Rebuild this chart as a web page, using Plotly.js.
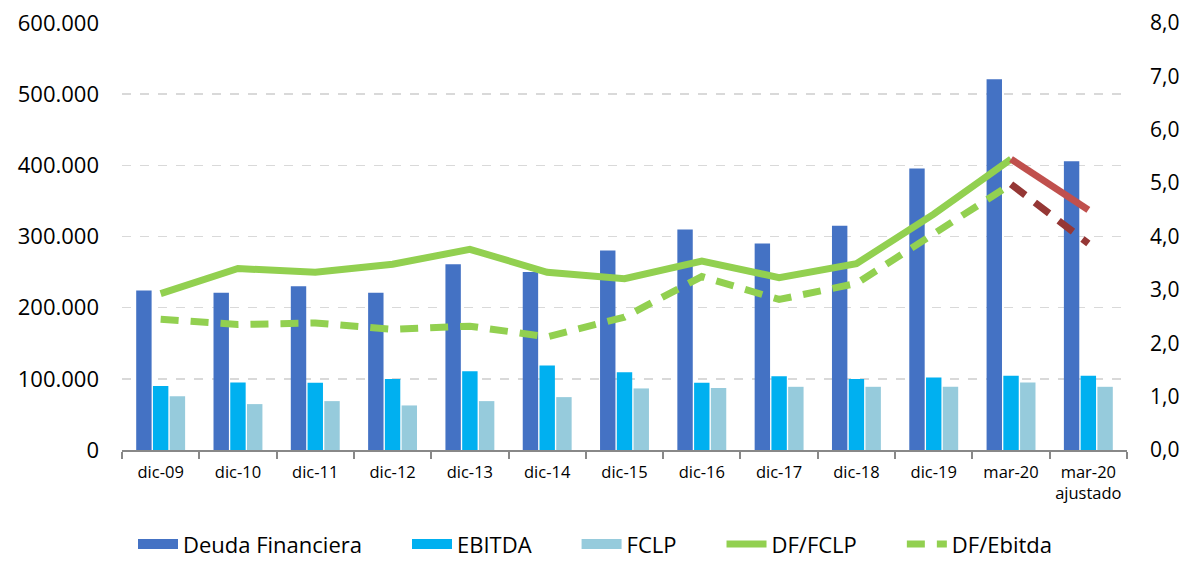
<!DOCTYPE html>
<html>
<head>
<meta charset="utf-8">
<script src="https://cdn.plot.ly/plotly-3.0.1.min.js"></script>
<style>html,body{margin:0;padding:0;background:#fff;}#chart{width:1190px;height:568px;}</style>
</head>
<body>
<div id="chart"></div>
<script>
const categories = ["dic-09","dic-10","dic-11","dic-12","dic-13","dic-14","dic-15","dic-16","dic-17","dic-18","dic-19","mar-20","mar-20<br>ajustado"];
const deudaFinanciera = [224000,221000,230000,221000,261000,250000,280500,310000,290000,315000,395500,521000,405700];
const ebitda = [90000,95000,94400,99600,110800,118800,109400,94400,103800,99600,102000,104200,104200];
const fclp = [75700,64500,68700,62600,68700,74300,86500,87000,88800,88800,88800,95000,88800];
const dfFclp = [2.93,3.40,3.33,3.48,3.76,3.33,3.21,3.54,3.23,3.49,4.42,5.45,null];
const dfEbitda = [2.45,2.35,2.38,2.26,2.32,2.12,2.49,3.25,2.82,3.12,4.05,4.98,null];
const dfFclpAjust = [null,null,null,null,null,null,null,null,null,null,null,5.45,4.50];
const dfEbitdaAjust = [null,null,null,null,null,null,null,null,null,null,null,4.98,3.87];

const seriesNames = ["Deuda Financiera","EBITDA","FCLP","DF/FCLP","DF/Ebitda"];
const barColors = ["#4472C4","#00B0F0","#96CBDC"];
const GREEN = "#92D050", RED = "#C0504D", DARKRED = "#953735";

const FONT = "Open Sans, sans-serif";
const PAD = "\u00a0\u00a0\u00a0\u00a0\u00a0\u00a0\u00a0";  // spacing between legend entries
const barData = [deudaFinanciera, ebitda, fclp];
const traces = [];
barData.forEach((vals, i) => {
  traces.push({type:"bar", name:seriesNames[i], x:categories, y:vals, marker:{color:barColors[i]},
               legendgroup:"g"+i, showlegend:false});
});
// legend swatches for the bar series (wide rectangles, as in the reference)
barData.forEach((vals, i) => {
  traces.push({type:"scatter", mode:"lines", name:seriesNames[i] + PAD, x:[null], y:[null],
               legendgroup:"g"+i, line:{color:barColors[i], width:12}});
});
traces.push({type:"scatter", mode:"lines", name:seriesNames[3] + PAD, x:categories, y:dfFclp, yaxis:"y2", line:{color:GREEN, width:7}});
traces.push({type:"scatter", mode:"lines", name:seriesNames[4], x:categories, y:dfEbitda, yaxis:"y2", line:{color:GREEN, width:7, dash:"18px,12px"}});
traces.push({type:"scatter", mode:"lines", name:"DF/FCLP ajustado", x:categories, y:dfFclpAjust, yaxis:"y2", showlegend:false, line:{color:RED, width:7}});
traces.push({type:"scatter", mode:"lines", name:"DF/Ebitda ajustado", x:categories, y:dfEbitdaAjust, yaxis:"y2", showlegend:false, line:{color:DARKRED, width:7, dash:"18px,12px"}});

const layout = {
  width:1190, height:568,
  margin:{l:122, r:63, t:23, b:118},
  paper_bgcolor:"#fff", plot_bgcolor:"#fff",
  separators:",.",
  font:{family:FONT, color:"#000", size:20},
  barmode:"group", bargap:0.35, bargroupgap:0.08,
  showlegend:true,
  legend:{orientation:"h", x:0.5, xanchor:"center", xref:"container", yref:"container", y:0.005, yanchor:"bottom",
          font:{size:22, family:FONT}, itemwidth:40, traceorder:"normal"},
  xaxis:{type:"category", tickson:"boundaries", ticks:"outside", ticklen:7, tickcolor:"#888", tickwidth:2,
         showline:true, linecolor:"#888", linewidth:2, showgrid:false, tickfont:{size:16.5}, ticklabelstandoff:6, fixedrange:true},
  yaxis:{range:[0,600000], dtick:100000, tickformat:",d", showgrid:true, gridcolor:"#d9d9d9", griddash:"dash", gridwidth:1.5,
         zeroline:false, showline:false, ticks:"", tickfont:{size:22}, ticklabelstandoff:22},
  yaxis2:{range:[0,8], dtick:1, tickformat:".1f", overlaying:"y", side:"right", showgrid:false, zeroline:false, showline:false,
          ticks:"", tickfont:{size:21}, ticklabelstandoff:22}
};

Plotly.newPlot("chart", traces, layout, {displayModeBar:false, staticPlot:true});
</script>
</body>
</html>
